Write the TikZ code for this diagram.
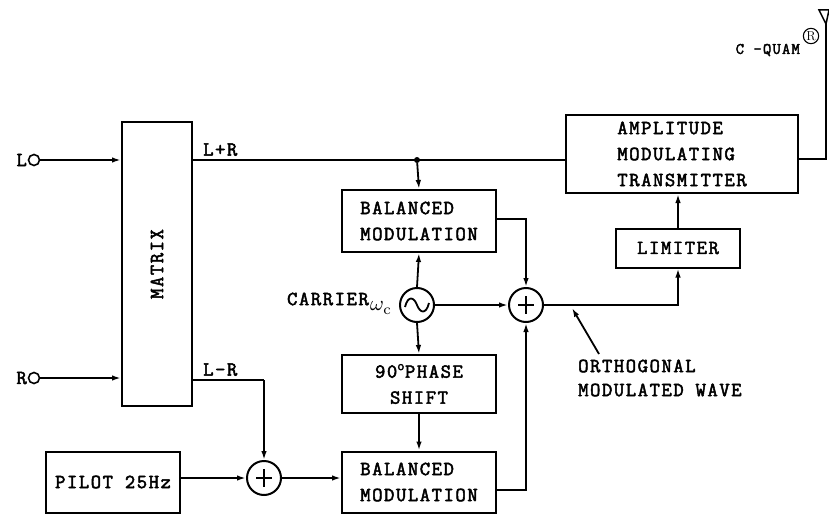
\documentclass[tikz,border=0pt]{standalone}
\usepackage{fontspec}
\newfontfamily\diagfont{Latin Modern Mono}[FakeBold=2.5, LetterSpace=8]
\usetikzlibrary{arrows.meta,calc}
\begin{document}
\begin{tikzpicture}[x=1pt,y=-1pt,
  lbl/.style={font=\diagfont\fontsize{20}{24}\selectfont, inner sep=0pt},
  box/.style={draw, line width=2pt, inner sep=0pt, font=\diagfont\fontsize{20}{26}\selectfont},
  sumc/.style={draw, circle, line width=2pt, minimum size=34pt, inner sep=0pt},
  term/.style={draw, circle, line width=1.6pt, minimum size=11pt, inner sep=0pt},
  wire/.style={line width=1.8pt},
  arr/.style={wire, -{Latex[length=9pt,width=5.5pt]}},
  dot/.style={circle, fill, inner sep=0pt, minimum size=6pt}]
\useasboundingbox (0,0) rectangle (829,516);
% terminals
\node[term] (lin) at (34,160) {};
\node[term] (rin) at (34,378) {};
\node[lbl, anchor=east] (ltx) at (27,160) {L};
\node[lbl, anchor=east] (rtx) at (27,378) {R};
% boxes
\node[box, minimum width=70pt, minimum height=284pt] (mx) at (157,264) {};
\node[lbl, rotate=90] (mxt) at (mx.center) {MATRIX};
\node[box, minimum width=154pt, minimum height=62pt, align=left] (bm1) at (419,221) {BALANCED\\MODULATION};
\node[sumc] (osc) at (417,305) {};
\draw[line width=1.8pt] ($(osc.center)+(-12,2)$) .. controls ($(osc.center)+(-9,-10)$) and ($(osc.center)+(-3,-8)$) .. (osc.center) .. controls ($(osc.center)+(3,8)$) and ($(osc.center)+(9,10)$) .. ($(osc.center)+(12,-2)$);
\node[sumc] (s1) at (526,305) {};
\node[sumc] (s2) at (264,478) {};
\draw[line width=1.6pt] ($(s1.center)+(-8,0)$) -- ($(s1.center)+(8,0)$) ($(s1.center)+(0,-9)$) -- ($(s1.center)+(0,9)$);
\draw[line width=1.6pt] ($(s2.center)+(-8,0)$) -- ($(s2.center)+(8,0)$) ($(s2.center)+(0,-9)$) -- ($(s2.center)+(0,9)$);
\node[box, minimum width=154pt, minimum height=58pt, align=center] (ps) at (419,384) {90\textsuperscript{o}PHASE\\SHIFT};
\node[box, minimum width=154pt, minimum height=61pt, align=left] (bm2) at (419,482) {BALANCED\\MODULATION};
\node[box, minimum width=134pt, minimum height=61pt] (pil) at (113,482) {PILOT 25Hz};
\node[box, minimum width=124pt, minimum height=39pt] (lim) at (678,248) {LIMITER};
\node[box, minimum width=232pt, minimum height=78pt, align=left] (amt) at (682,154) {AMPLITUDE\\MODULATING\\TRANSMITTER};
% coordinates
\coordinate (jn) at (417,160);
\coordinate (lr1) at (192,380);
\coordinate (lr2) at (264,380);
\coordinate (b1o) at (496,219);
\coordinate (b1c) at (526,219);
\coordinate (b2o) at (496,490);
\coordinate (b2c) at (526,490);
\coordinate (oc) at (678,305);
\coordinate (ao) at (798,159);
\coordinate (ac) at (826,159);
\coordinate (ant) at (826,24);
\coordinate (lp) at (192,160);
\coordinate (ap) at (566,160);
\node[dot] (jd) at (jn) {};
% wires
\draw[arr] (lin) -- (lin -| mx.west);
\draw[arr] (rin) -- (rin -| mx.west);
\draw[wire] (lp) -- (ap);
\draw[arr] (jd) -- (bm1.north);
\draw[wire] (lr1) -- (lr2);
\draw[arr] (lr2) -- (s2.north);
\draw[arr] (pil.east |- s2) -- (s2.west);
\draw[arr] (s2.east) -- (s2 -| bm2.west);
\draw[arr] (osc.north) -- (bm1.south);
\draw[arr] (osc.south) -- (ps.north);
\draw[arr] (ps.south) -- (bm2.north);
\draw[arr] (osc.east) -- (s1.west);
\draw[arr] (b1o) -- (b1c) -- (s1.north);
\draw[arr] (b2o) -- (b2c) -- (s1.south);
\draw[arr] (s1.east) -- (oc) -- (lim.south);
\draw[arr] (lim.north) -- (lim.north |- amt.south);
\draw[wire] (ao) -- (ac) -- (ant);
\draw[line width=1.5pt] (819,10) -- (829,10) -- (826,24) -- cycle;
% labels
\node[lbl, anchor=south west] (lpr) at (203,156) {L+R};
\node[lbl, anchor=south west] (lmr) at (203,376) {L-R};
\node[lbl, anchor=east] (car) at (369,299) {CARRIER};
\node[inner sep=0pt, anchor=west] (wc) at (370,308) {\scalebox{2.1}{$\omega_{\mathrm{c}}$}};
\node[lbl, font=\diagfont\fontsize{16}{16}\selectfont, anchor=east] (cq) at (800,50) {C -QUAM};
\node[draw, circle, line width=1.1pt, inner sep=0.8pt, font=\fontsize{13}{13}\selectfont] (reg) at (811,36) {R};
\node[lbl, anchor=west, align=left] (orth) at (578,378) {ORTHOGONAL\\MODULATED WAVE};
\coordinate (owp) at (572,308);
\draw[arr] (599,354) -- (owp);
\end{tikzpicture}
\end{document}
